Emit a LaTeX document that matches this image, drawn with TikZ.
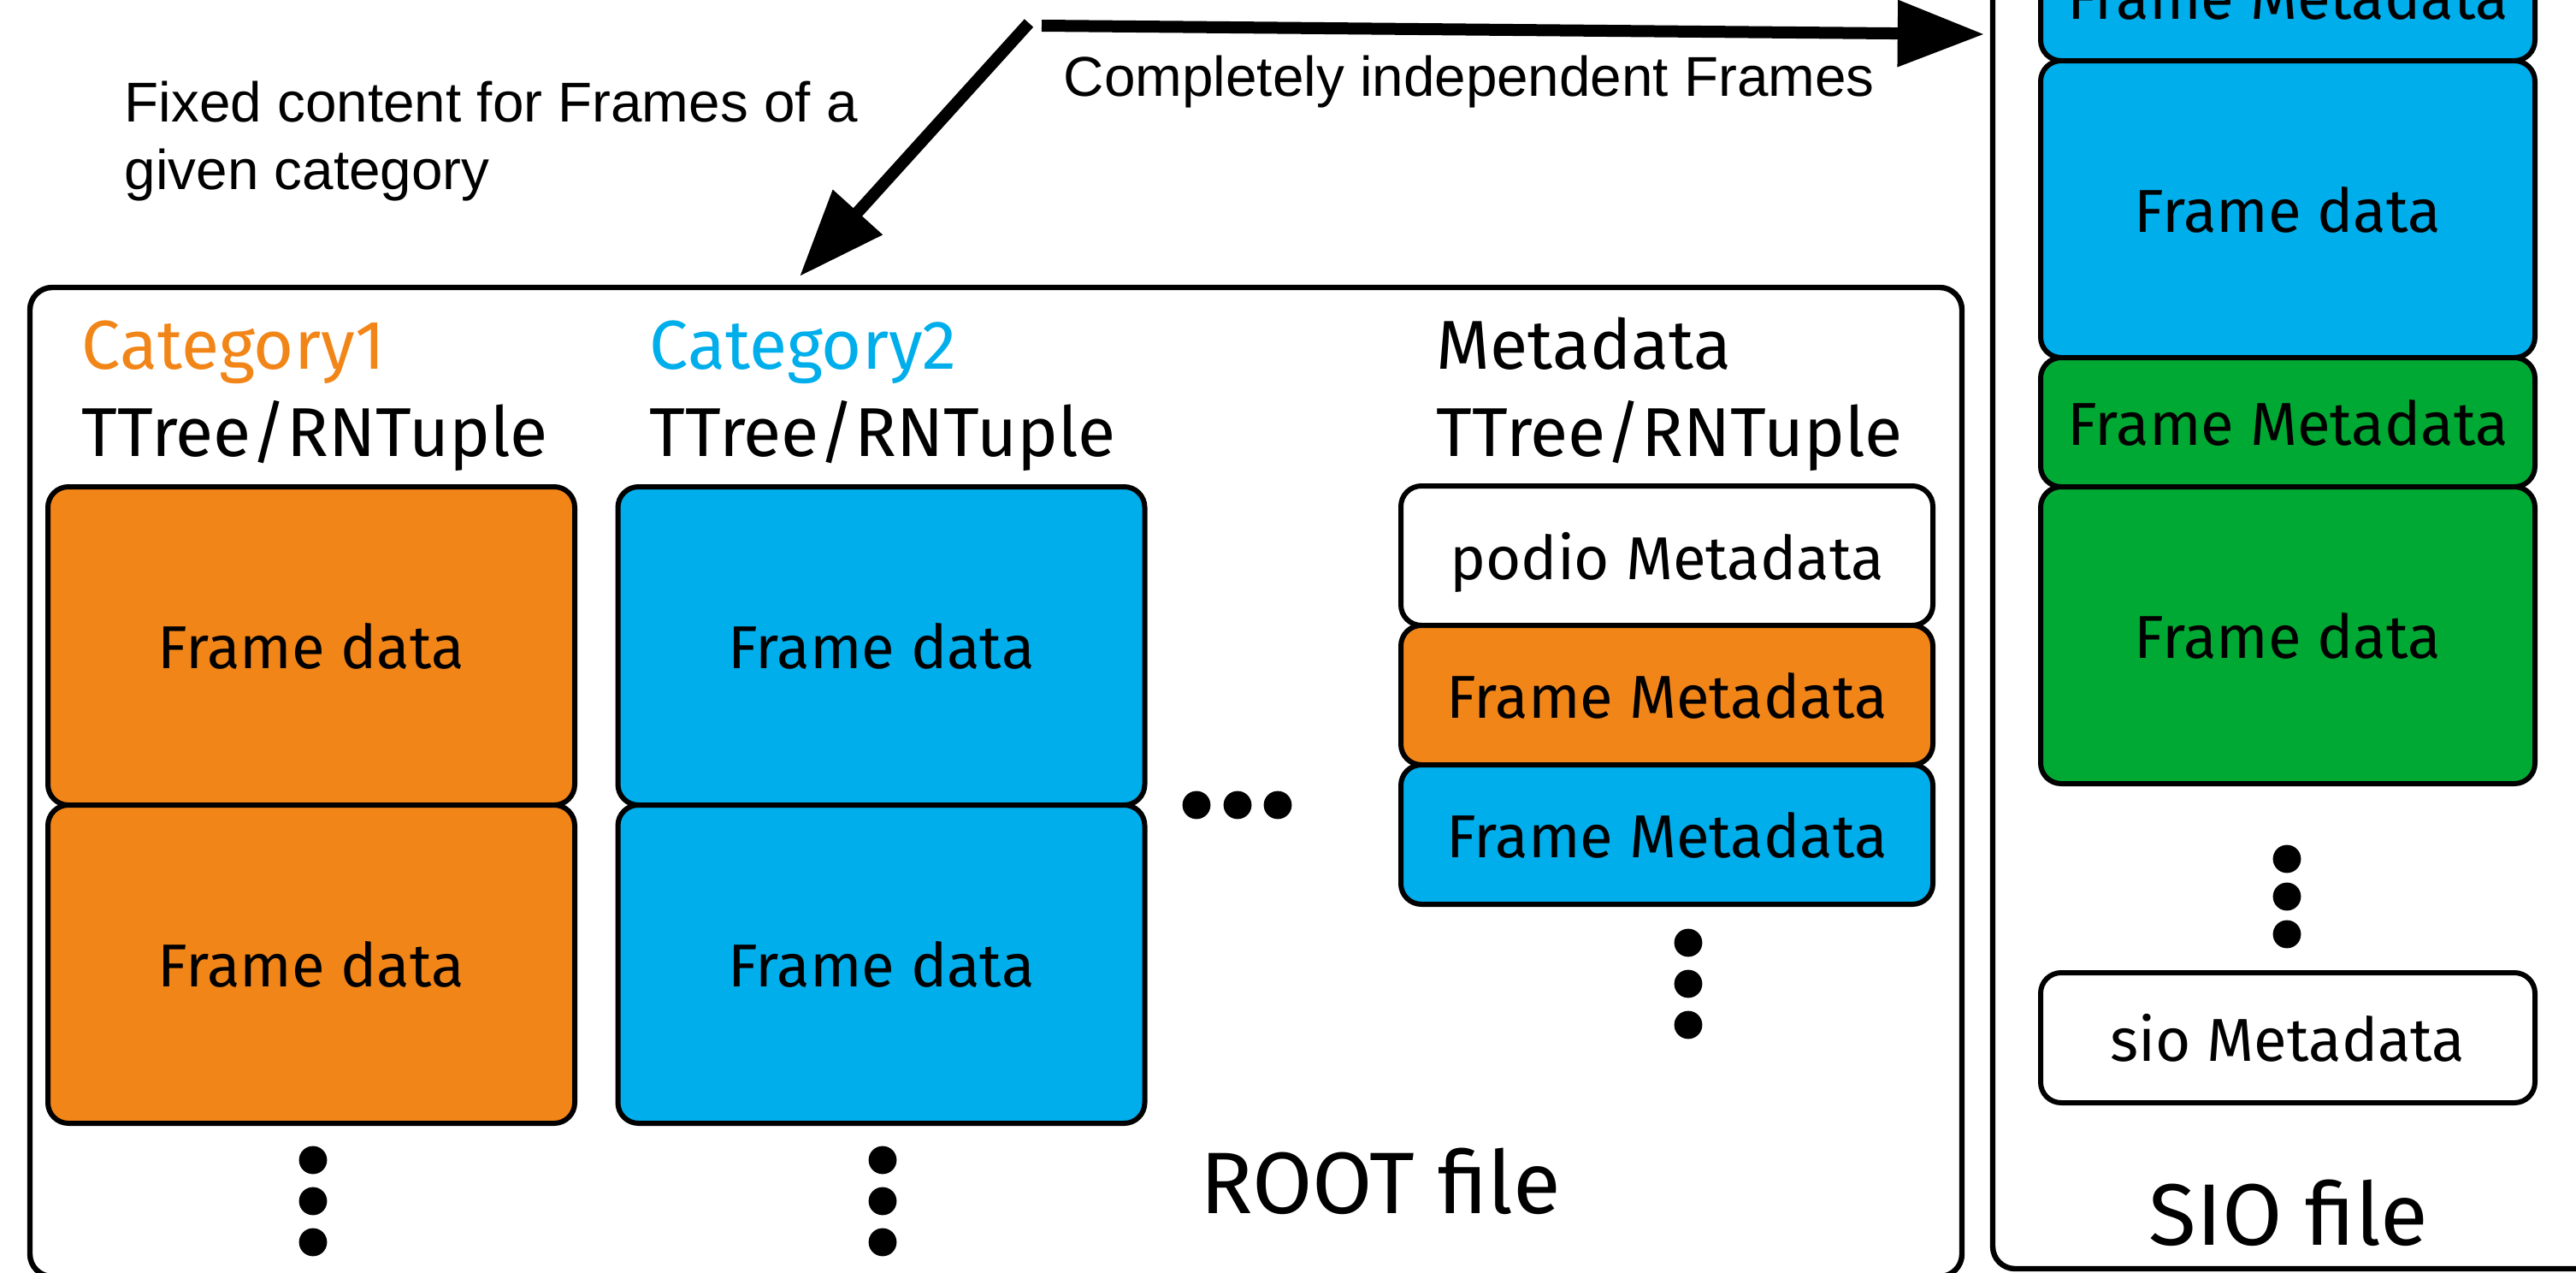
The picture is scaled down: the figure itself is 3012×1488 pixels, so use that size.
\documentclass[tikz,border=0pt]{standalone}
\usepackage{fontspec}
\setmainfont{Fira Sans}
\newfontfamily\notefont{Liberation Sans}
\usetikzlibrary{arrows.meta}
\definecolor{catorange}{HTML}{F28518}
\definecolor{catblue}{HTML}{00AEEB}
\definecolor{catgreen}{HTML}{00A933}
\tikzset{
  filebox/.style={draw, line width=1.6pt, rounded corners=6.5pt, inner sep=0pt},
  block/.style={draw, line width=1.5pt, rounded corners=6pt, inner sep=0pt,
    text depth=0pt, font=\fontsize{17.7}{21}\selectfont},
  datablock/.style={block, minimum width=154pt, minimum height=93pt},
  metablock/.style={block, minimum width=155.5pt, minimum height=40.75pt},
  sioblock/.style={block, minimum width=144.5pt},
  heading/.style={anchor=base west, inner sep=0pt, font=\fontsize{20.2}{24}\selectfont},
  filename/.style={anchor=base, inner sep=0pt, font=\fontsize{25.5}{30}\selectfont},
  note/.style={anchor=base west, inner sep=0pt, font=\notefont\fontsize{16.4}{19.75}\selectfont},
  dot/.style={circle, fill, inner sep=0pt, minimum size=8.2pt},
  bigarrow/.style={line width=3.5pt, -{Triangle[length=25.3pt,width=18.7pt]}},
}
\begin{document}
\begin{tikzpicture}[x=0.25pt,y=-0.25pt]
\useasboundingbox (0,0) rectangle (3012,1488);
\clip (0,0) rectangle (3012,1488);

% outer file containers
\node[filebox, minimum width=564.75pt, minimum height=289pt] (root) at (1164.5,914) {};
\node[filebox, minimum width=182.5pt, minimum height=380.75pt] (sio) at (2695,721.5) {};

% ROOT file: column headings
\node[heading, text=catorange] (cat1) at (95,431) {Category1};
\node[heading] (tt1) at (95,533) {TTree/RNTuple};
\node[heading, text=catblue] (cat2) at (759,431) {Category2};
\node[heading] (tt2) at (759,533) {TTree/RNTuple};
\node[heading] (meta) at (1679,431) {Metadata};
\node[heading] (tt3) at (1679,533) {TTree/RNTuple};

% ROOT file: category trees
\node[datablock, fill=catorange] (o1) at (364,755) {Frame data};
\node[datablock, fill=catorange] (o2) at (364,1127) {Frame data};
\node[datablock, fill=catblue] (b1) at (1030.5,755) {Frame data};
\node[datablock, fill=catblue] (b2) at (1030.5,1127) {Frame data};

% ROOT file: metadata tree
\node[metablock, fill=white] (podio) at (1949,649.5) {podio Metadata};
\node[metablock, fill=catorange] (m1) at (1949,812.5) {Frame Metadata};
\node[metablock, fill=catblue] (m2) at (1949,975.5) {Frame Metadata};

% ellipsis dots
\foreach \yy [count=\i] in {1356,1404,1452} {
  \node[dot] (odot\i) at (366,\yy) {};
  \node[dot] (bdot\i) at (1032,\yy) {};
}
\foreach \xx [count=\i] in {1399,1447,1494} {
  \node[dot] (hdot\i) at (\xx,941) {};
}
\foreach \yy [count=\i] in {1102,1150,1198} {
  \node[dot] (mdot\i) at (1974,\yy) {};
}
\foreach \yy [count=\i] in {1004,1048,1092} {
  \node[dot] (sdot\i) at (2674,\yy) {};
}

\node[filename] (rootlabel) at (1614,1418) {ROOT file};

% SIO file: sequential records
\node[sioblock, minimum height=37.75pt, fill=catblue] (s1) at (2675,-4.5) {Frame Metadata};
\node[sioblock, minimum height=86.75pt, fill=catblue] (s2) at (2675,244.5) {Frame data};
\node[sioblock, minimum height=37.75pt, fill=catgreen] (s3) at (2675,493.5) {Frame Metadata};
\node[sioblock, minimum height=86.75pt, fill=catgreen] (s4) at (2675,742.5) {Frame data};
\node[sioblock, minimum height=38pt, fill=white] (s5) at (2675,1213) {sio Metadata};
\node[filename] (siolabel) at (2676,1455) {SIO file};

% annotations and arrows
\node[note] (fixednote) at (145,142)
  {\begin{tabular}[t]{@{}l@{}}Fixed content for Frames of a\\given category\end{tabular}};
\node[note] (indepnote) at (1243,112) {Completely independent Frames};

\coordinate (fromA) at (1203,27);
\coordinate (toA) at (935,323);
\coordinate (fromB) at (1218,30);
\coordinate (toB) at (2320,40);
\draw[bigarrow] (fromA) -- (toA);
\draw[bigarrow] (fromB) -- (toB);
\end{tikzpicture}
\end{document}
